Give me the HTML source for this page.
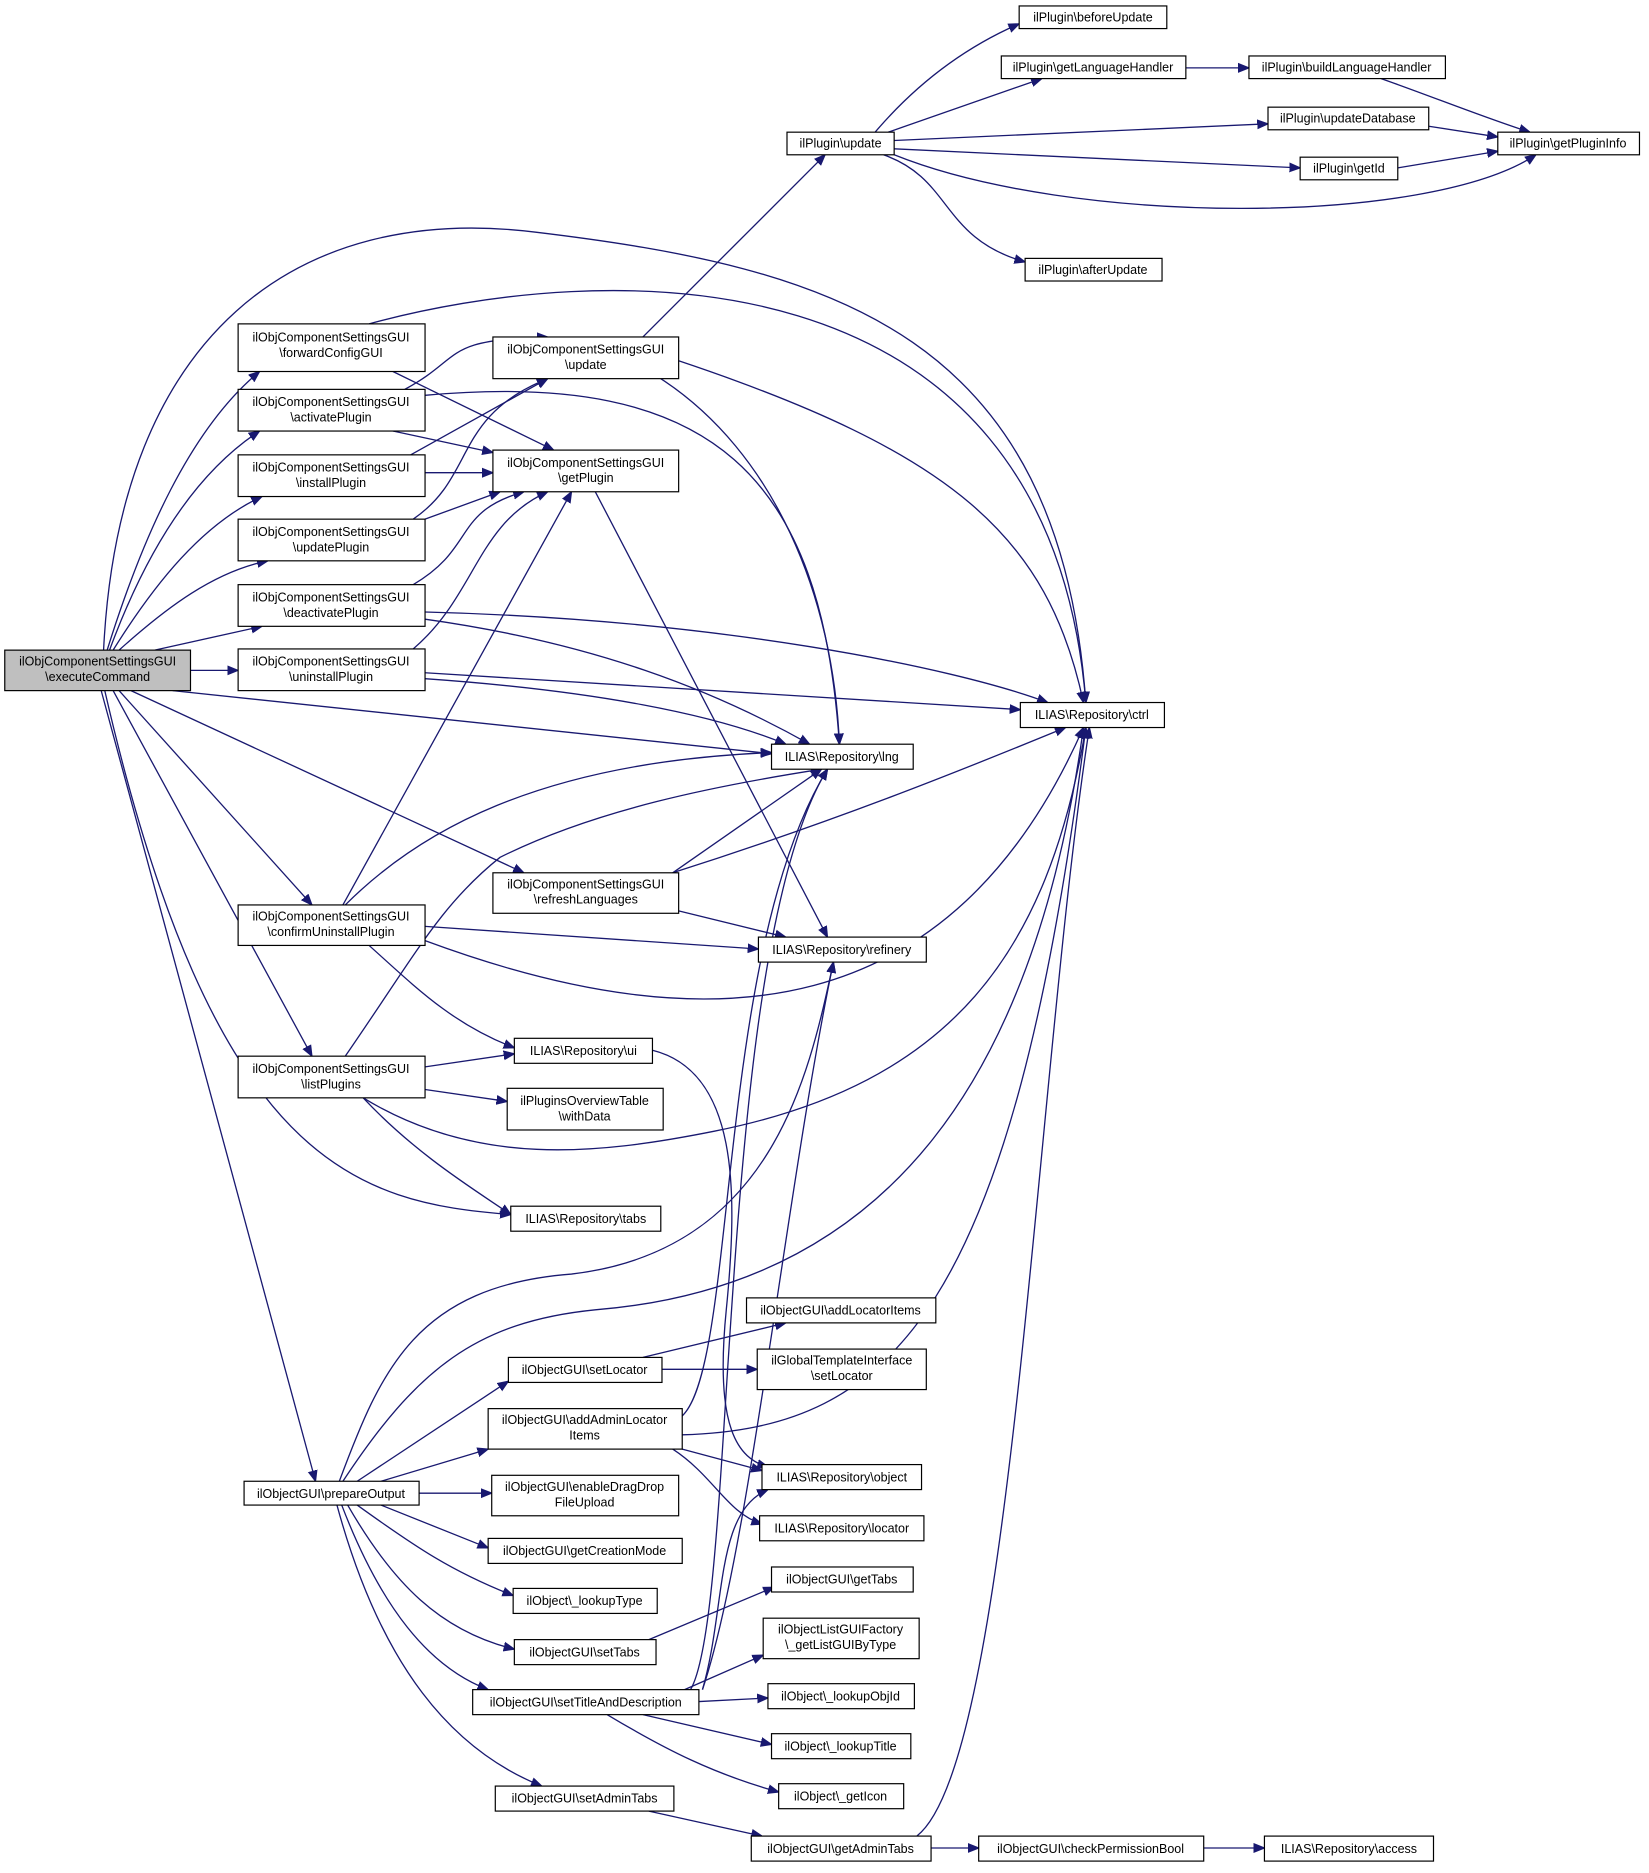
<!DOCTYPE html>
<html><head><meta charset="utf-8"><style>
html,body{margin:0;padding:0;background:#fff;}
svg{display:block;}
text{font-family:"Liberation Sans",Arial,sans-serif;font-size:10.5px;fill:#000;text-anchor:middle;}
rect{fill:#fff;stroke:#000;stroke-width:1;}
path{fill:none;stroke:#191970;stroke-width:1.1;marker-end:url(#a);}
</style></head><body>
<svg width="1649" height="1873" viewBox="0 0 1385 1573" preserveAspectRatio="none" xmlns="http://www.w3.org/2000/svg">
<defs><marker id="a" viewBox="0 0 10 10" refX="10" refY="5" markerWidth="9" markerHeight="9" markerUnits="userSpaceOnUse" orient="auto"><path d="M0,1 L10,5 L0,9 z" style="fill:#191970;stroke:#191970;marker-end:none"/></marker></defs>

<!-- edges -->
<path d="M90,546 C120,450 160,360 218,312"/>
<path d="M92,546 C120,470 160,400 218,362"/>
<path d="M95,546 C130,490 170,440 220,417"/>
<path d="M100,546 C140,510 180,480 225,471"/>
<path d="M130,546 L220,526"/>
<path d="M160,563 L200,563"/>
<path d="M87,546 C100,280 250,170 450,195 C700,225 890,280 912,590"/>
<path d="M145,580 L648,633"/>
<path d="M110,580 L440,733"/>
<path d="M100,580 L262,760"/>
<path d="M95,580 L262,887"/>
<path d="M88,580 C180,980 300,1010 429,1020"/>
<path d="M85,580 L265,1244"/>
<path d="M310,272 C500,220 880,200 912,590"/>
<path d="M330,312 L465,378"/>
<path d="M340,327 C390,300 370,285 460,283"/>
<path d="M357,332 C600,310 690,400 705,625"/>
<path d="M330,362 L414,380"/>
<path d="M345,382 L460,318"/>
<path d="M357,397 L414,397"/>
<path d="M357,436 L420,413"/>
<path d="M347,436 C400,400 380,350 460,318"/>
<path d="M347,491 C400,460 380,430 440,413"/>
<path d="M357,514 C600,520 800,560 880,590"/>
<path d="M357,520 C500,540 600,580 680,625"/>
<path d="M347,545 C400,500 400,440 460,413"/>
<path d="M357,565 L857,596"/>
<path d="M357,570 C500,580 600,600 660,625"/>
<path d="M540,283 L693,130"/>
<path d="M570,303 C800,380 880,450 910,590"/>
<path d="M555,318 C650,380 700,500 705,625"/>
<path d="M500,413 L695,787"/>
<path d="M735,111 C770,70 810,40 856,20"/>
<path d="M746,111 L875,66"/>
<path d="M751,118 L1065,104"/>
<path d="M751,125 L1092,141"/>
<path d="M751,130 C900,190 1200,190 1290,130"/>
<path d="M742,130 C800,150 790,200 861,220"/>
<path d="M996,57 L1049,57"/>
<path d="M1160,66 C1200,80 1250,100 1285,111"/>
<path d="M1200,106 L1258,115"/>
<path d="M1174,141 L1258,127"/>
<path d="M565,733 L690,646"/>
<path d="M565,733 C700,690 800,650 895,611"/>
<path d="M570,765 L660,787"/>
<path d="M288,760 L480,413"/>
<path d="M290,760 C350,700 450,640 648,632"/>
<path d="M357,778 L637,797"/>
<path d="M357,790 C600,880 800,860 910,611"/>
<path d="M310,794 C350,830 380,860 432,880"/>
<path d="M290,887 C350,800 370,760 420,720 C500,680 600,660 690,646"/>
<path d="M357,896 L432,885"/>
<path d="M357,915 L426,925"/>
<path d="M305,922 C400,980 500,970 600,950 C800,910 880,800 912,611"/>
<path d="M305,922 C350,970 400,1000 429,1020"/>
<path d="M548,882 C620,900 620,1000 610,1100 C600,1200 620,1225 645,1232"/>
<path d="M285,1244 C320,1150 350,1080 480,1070 C650,1050 680,900 700,808"/>
<path d="M288,1244 C350,1150 400,1110 500,1100 C750,1080 870,900 910,611"/>
<path d="M300,1244 L427,1160"/>
<path d="M320,1244 L410,1217"/>
<path d="M352,1254 L413,1254"/>
<path d="M320,1264 L410,1300"/>
<path d="M300,1264 C350,1300 380,1320 431,1340"/>
<path d="M292,1264 C330,1330 370,1370 432,1385"/>
<path d="M287,1264 C320,1350 360,1400 410,1419"/>
<path d="M283,1264 C320,1400 380,1470 455,1500"/>
<path d="M540,1140 L660,1111"/>
<path d="M556,1150 L636,1150"/>
<path d="M572,1190 C620,1150 600,800 695,646"/>
<path d="M573,1205 C750,1200 850,1100 912,611"/>
<path d="M573,1217 L640,1235"/>
<path d="M565,1217 C600,1240 610,1270 640,1280"/>
<path d="M545,1377 L650,1333"/>
<path d="M580,1419 C620,1350 600,800 695,646"/>
<path d="M590,1419 C630,1300 660,1000 700,808"/>
<path d="M590,1419 C610,1350 600,1270 645,1251"/>
<path d="M575,1419 L641,1390"/>
<path d="M587,1429 L645,1426"/>
<path d="M540,1440 L648,1465"/>
<path d="M510,1440 C560,1470 600,1490 654,1505"/>
<path d="M545,1521 L640,1542"/>
<path d="M770,1542 C850,1480 870,900 915,611"/>
<path d="M782,1552 L822,1552"/>
<path d="M1011,1552 L1062,1552"/>

<!-- nodes -->
<rect x="4" y="546" width="156" height="34" style="fill:#bfbfbf"/><text x="82" y="559">ilObjComponentSettingsGUI</text><text x="82" y="572">\executeCommand</text>
<rect x="200" y="272" width="157" height="40"/><text x="278" y="287">ilObjComponentSettingsGUI</text><text x="278" y="300">\forwardConfigGUI</text>
<rect x="200" y="327" width="157" height="35"/><text x="278" y="341">ilObjComponentSettingsGUI</text><text x="278" y="354">\activatePlugin</text>
<rect x="200" y="382" width="157" height="35"/><text x="278" y="396">ilObjComponentSettingsGUI</text><text x="278" y="409">\installPlugin</text>
<rect x="200" y="436" width="157" height="35"/><text x="278" y="450">ilObjComponentSettingsGUI</text><text x="278" y="463">\updatePlugin</text>
<rect x="200" y="491" width="157" height="35"/><text x="278" y="505">ilObjComponentSettingsGUI</text><text x="278" y="518">\deactivatePlugin</text>
<rect x="200" y="545" width="157" height="35"/><text x="278" y="559">ilObjComponentSettingsGUI</text><text x="278" y="572">\uninstallPlugin</text>
<rect x="414" y="283" width="156" height="35"/><text x="492" y="297">ilObjComponentSettingsGUI</text><text x="492" y="310">\update</text>
<rect x="414" y="378" width="156" height="35"/><text x="492" y="392">ilObjComponentSettingsGUI</text><text x="492" y="405">\getPlugin</text>
<rect x="661" y="111" width="90" height="19"/><text x="706" y="124">ilPlugin\update</text>
<rect x="856" y="5" width="124" height="19"/><text x="918" y="18">ilPlugin\beforeUpdate</text>
<rect x="841" y="47" width="155" height="19"/><text x="918" y="60">ilPlugin\getLanguageHandler</text>
<rect x="1049" y="47" width="165" height="19"/><text x="1131" y="60">ilPlugin\buildLanguageHandler</text>
<rect x="1065" y="90" width="135" height="19"/><text x="1132" y="103">ilPlugin\updateDatabase</text>
<rect x="1092" y="132" width="82" height="19"/><text x="1133" y="145">ilPlugin\getId</text>
<rect x="1258" y="111" width="119" height="19"/><text x="1317" y="124">ilPlugin\getPluginInfo</text>
<rect x="861" y="217" width="115" height="19"/><text x="918" y="230">ilPlugin\afterUpdate</text>
<rect x="857" y="590" width="121" height="21"/><text x="917" y="604">ILIAS\Repository\ctrl</text>
<rect x="648" y="625" width="119" height="21"/><text x="707" y="639">ILIAS\Repository\lng</text>
<rect x="414" y="733" width="156" height="34"/><text x="492" y="746">ilObjComponentSettingsGUI</text><text x="492" y="759">\refreshLanguages</text>
<rect x="200" y="760" width="157" height="34"/><text x="278" y="773">ilObjComponentSettingsGUI</text><text x="278" y="786">\confirmUninstallPlugin</text>
<rect x="637" y="787" width="141" height="21"/><text x="707" y="801">ILIAS\Repository\refinery</text>
<rect x="432" y="872" width="116" height="21"/><text x="490" y="886">ILIAS\Repository\ui</text>
<rect x="200" y="887" width="157" height="35"/><text x="278" y="901">ilObjComponentSettingsGUI</text><text x="278" y="914">\listPlugins</text>
<rect x="426" y="914" width="131" height="35"/><text x="491" y="928">ilPluginsOverviewTable</text><text x="491" y="941">\withData</text>
<rect x="429" y="1013" width="126" height="21"/><text x="492" y="1027">ILIAS\Repository\tabs</text>
<rect x="627" y="1090" width="159" height="21"/><text x="706" y="1104">ilObjectGUI\addLocatorItems</text>
<rect x="427" y="1140" width="129" height="21"/><text x="491" y="1154">ilObjectGUI\setLocator</text>
<rect x="636" y="1133" width="142" height="34"/><text x="707" y="1146">ilGlobalTemplateInterface</text><text x="707" y="1159">\setLocator</text>
<rect x="410" y="1183" width="163" height="34"/><text x="491" y="1196">ilObjectGUI\addAdminLocator</text><text x="491" y="1209">Items</text>
<rect x="205" y="1244" width="147" height="20"/><text x="278" y="1258">ilObjectGUI\prepareOutput</text>
<rect x="640" y="1230" width="134" height="21"/><text x="707" y="1244">ILIAS\Repository\object</text>
<rect x="413" y="1239" width="157" height="34"/><text x="491" y="1252">ilObjectGUI\enableDragDrop</text><text x="491" y="1265">FileUpload</text>
<rect x="638" y="1273" width="138" height="21"/><text x="707" y="1287">ILIAS\Repository\locator</text>
<rect x="410" y="1292" width="163" height="21"/><text x="491" y="1306">ilObjectGUI\getCreationMode</text>
<rect x="648" y="1316" width="119" height="21"/><text x="707" y="1330">ilObjectGUI\getTabs</text>
<rect x="431" y="1334" width="121" height="21"/><text x="491" y="1348">ilObject\_lookupType</text>
<rect x="641" y="1359" width="131" height="34"/><text x="706" y="1372">ilObjectListGUIFactory</text><text x="706" y="1385">\_getListGUIByType</text>
<rect x="432" y="1377" width="119" height="21"/><text x="491" y="1391">ilObjectGUI\setTabs</text>
<rect x="397" y="1419" width="190" height="21"/><text x="492" y="1433">ilObjectGUI\setTitleAndDescription</text>
<rect x="645" y="1414" width="123" height="21"/><text x="706" y="1428">ilObject\_lookupObjId</text>
<rect x="648" y="1456" width="117" height="21"/><text x="706" y="1470">ilObject\_lookupTitle</text>
<rect x="654" y="1498" width="105" height="21"/><text x="706" y="1512">ilObject\_getIcon</text>
<rect x="416" y="1500" width="150" height="21"/><text x="491" y="1514">ilObjectGUI\setAdminTabs</text>
<rect x="631" y="1542" width="151" height="21"/><text x="706" y="1556">ilObjectGUI\getAdminTabs</text>
<rect x="822" y="1542" width="189" height="21"/><text x="916" y="1556">ilObjectGUI\checkPermissionBool</text>
<rect x="1062" y="1542" width="142" height="21"/><text x="1133" y="1556">ILIAS\Repository\access</text>
</svg>
</body></html>
